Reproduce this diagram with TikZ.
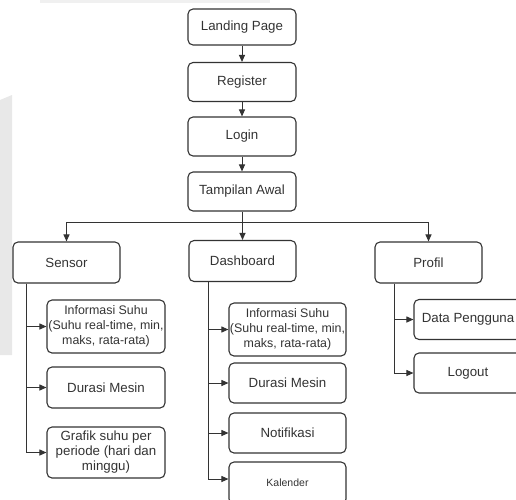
\documentclass[tikz,border=0pt]{standalone}
\usepackage{fontspec}
\setmainfont{Liberation Sans}
\usetikzlibrary{arrows.meta}

\definecolor{ink}{HTML}{333333}

\tikzset{
  menu box/.style={draw=ink, line width=1.1pt, rounded corners=5pt,
    text=ink, align=center, inner sep=1pt,
    font=\fontsize{13.3}{15}\selectfont},
  sub box/.style={menu box},
  link/.style={draw=ink, line width=1pt, -{Triangle[length=7pt,width=6pt]}},
  sub label s1/.style={font=\fontsize{12.4}{15}\selectfont},
  sub label d1/.style={font=\fontsize{12.4}{15}\selectfont},
  sub label d4/.style={font=\fontsize{10.5}{12}\selectfont}
}

\begin{document}
\begin{tikzpicture}[x=1pt,y=-1pt]
\useasboundingbox (0,0) rectangle (516,499);
\clip (0,0) rectangle (516,499);

% faint marks of the scanned page
\fill [black!9] (0,100) -- (12,95) -- (12,355) -- (0,355) -- cycle;
\fill [black!6] (40,0) rectangle (270,2.5);

% main chain
\foreach \name/\txt/\y/\h in
  {land/Landing Page/27/36, reg/Register/82/39,
   login/Login/136.5/39, awal/Tampilan Awal/191.5/39}
  \node [menu box, minimum width=108pt, minimum height=\h pt] (\name) at (242,\y) {\txt};

\foreach \a/\b in {land/reg, reg/login, login/awal}
  \draw [link] (\a) -- (\b);

% menus
\foreach \name/\txt/\x/\y in
  {sensor/Sensor/66.5/262.5, dash/Dashboard/242.5/261, prof/Profil/428.5/262.5}
  \node [menu box, minimum width=107pt, minimum height=41pt] (\name) at (\x,\y) {\txt};

\coordinate (fork) at (242,222);
\draw [line width=1pt, ink] (awal) -- (fork);
\foreach \name in {sensor,dash,prof}
  \draw [link] (fork) -| (\name);

% sensor
\foreach \name/\txt/\y/\h in
  {s1/{Informasi Suhu\\(Suhu real-time, min,\\maks, rata-rata)}/326.5/53,
   s2/Durasi Mesin/387.5/41,
   s3/{Grafik suhu per\\periode (hari dan\\minggu)}/452.5/51}
  \node [sub box, minimum width=118pt, minimum height=\h pt, sub label \name/.try]
    (\name) at (106,\y) {\txt};

\foreach \name in {s1,s2,s3}
  \draw [link] ([xshift=14pt]sensor.south west) |- (\name);

% dashboard
\foreach \name/\txt/\y/\h in
  {d1/{Informasi Suhu\\(Suhu real-time, min,\\maks, rata-rata)}/329.5/53,
   d2/Durasi Mesin/383/40,
   d3/Notifikasi/433/40,
   d4/Kalender/483/42}
  \node [sub box, minimum width=117pt, minimum height=\h pt, sub label \name/.try]
    (\name) at (287.5,\y) {\txt};

\foreach \name in {d1,d2,d3}
  \draw [link] ([xshift=20pt]dash.south west) |- (\name);
\draw [link] ([xshift=20pt]dash.south west) |- ([yshift=4pt]d4.west);

% profil
\foreach \name/\txt/\y in
  {p1/Data Pengguna/319.5, p2/Logout/373}
  \node [sub box, minimum width=108pt, minimum height=40pt] (\name) at (468,\y) {\txt};

\foreach \name in {p1,p2}
  \draw [link] ([xshift=20pt]prof.south west) |- (\name);

\end{tikzpicture}
\end{document}
